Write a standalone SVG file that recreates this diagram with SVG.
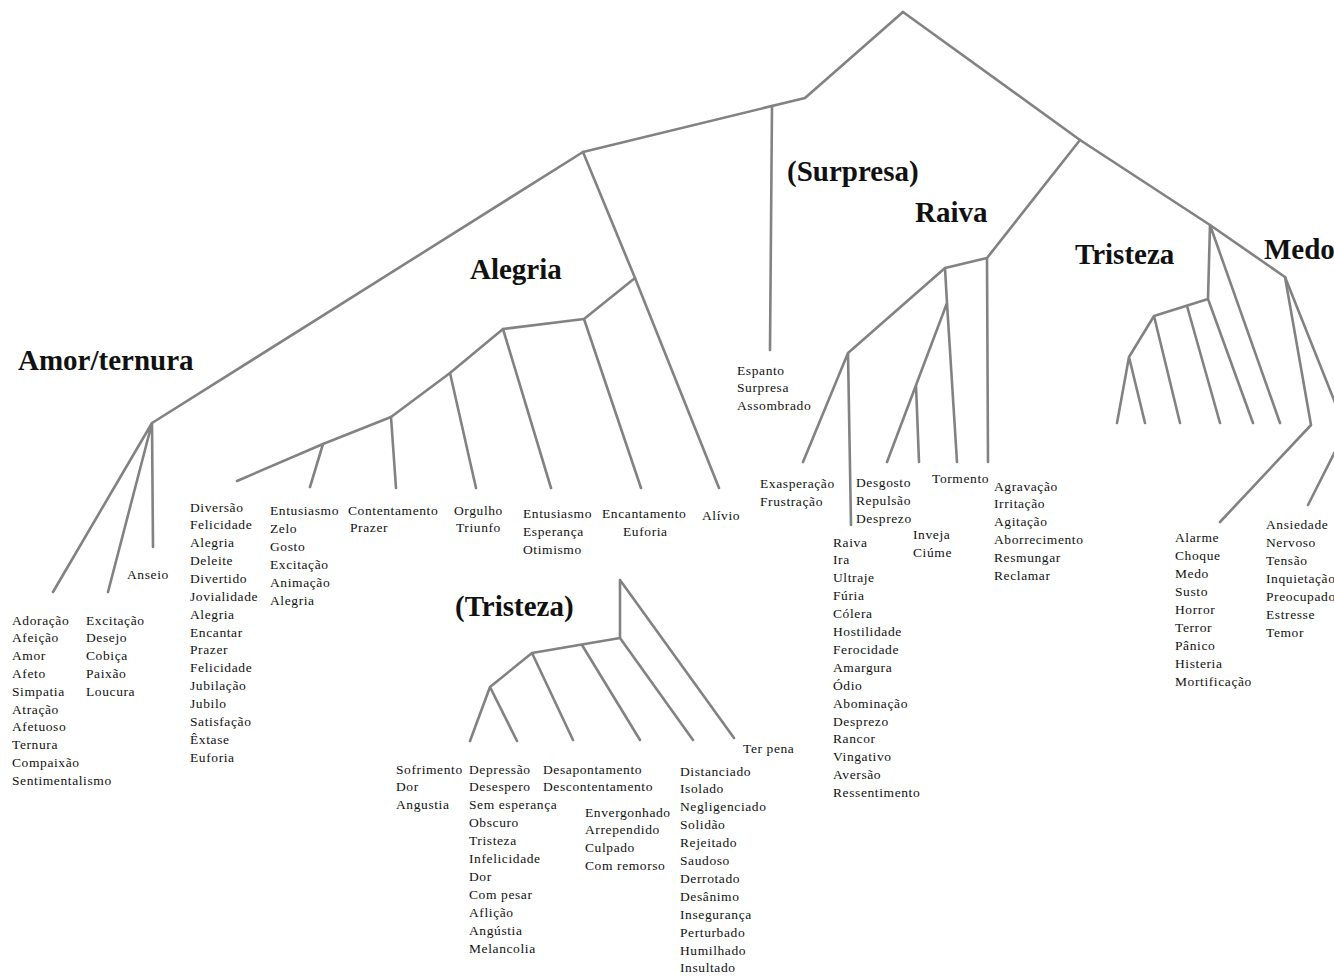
<svg xmlns="http://www.w3.org/2000/svg" width="1334" height="977" viewBox="0 0 1334 977">
<style>
.w{font-family:"Liberation Serif","Times New Roman",serif;font-size:13.5px;letter-spacing:0.6px;fill:#111}
.t{font-family:"Liberation Serif","Times New Roman",serif;font-weight:bold;font-size:29px;fill:#111}
.c{stroke:#828282;stroke-width:2.6;fill:none;stroke-linecap:round;stroke-linejoin:round}
</style>
<rect width="1334" height="977" fill="#fff"/>
<g id="connectors" class="c">
<path d="M903,12 L805,98 L583,152 L152,423"/>
<path d="M903,12 L1080,140 L1210,225 L1285,277 L1346,430 L1308,505"/>
<path d="M772,106 L770,350"/>
<path d="M583,152 L635,278 L719,488"/>
<path d="M635,278 L584,319 L503,329 L450,373 L391,417 L323,444 L237,481"/>
<path d="M584,319 L641,488 M503,329 L551,488 M450,373 L476,488 M391,417 L396,488 M323,444 L310,487"/>
<path d="M152,423 L53,592 M152,423 L108,592 M152,423 L153,547"/>
<path d="M1080,140 L987,258 L988,462 M987,258 L945,268 L947,303 L957,462 M947,303 L887,462 M916,385 L919,462 M945,268 L848,353 L803,462 M848,353 L851,525"/>
<path d="M1210,225 L1280,423 M1210,225 L1208,299 L1253,423 M1208,299 L1154,316 L1129,357 L1117,423 M1129,357 L1145,423 M1154,316 L1180,423 M1187,306 L1220,423"/>
<path d="M1285,277 L1311,425 L1220,522"/>
<path d="M620,580 L620,638 L532,653 L490,687 L470,741 M620,580 L734,738 M620,638 L693,740 M582,645 L640,740 M532,653 L573,740 M490,687 L517,741"/>
</g>
<g id="amor">
<text class="t" x="18" y="370">Amor/ternura</text>
<text class="w" x="12" y="624.5"><tspan x="12">Adoração</tspan><tspan x="12" dy="17.8">Afeição</tspan><tspan x="12" dy="17.8">Amor</tspan><tspan x="12" dy="17.8">Afeto</tspan><tspan x="12" dy="17.8">Simpatia</tspan><tspan x="12" dy="17.8">Atração</tspan><tspan x="12" dy="17.8">Afetuoso</tspan><tspan x="12" dy="17.8">Ternura</tspan><tspan x="12" dy="17.8">Compaixão</tspan><tspan x="12" dy="17.8">Sentimentalismo</tspan></text>
<text class="w" x="86" y="624.5"><tspan x="86">Excitação</tspan><tspan x="86" dy="17.8">Desejo</tspan><tspan x="86" dy="17.8">Cobiça</tspan><tspan x="86" dy="17.8">Paixão</tspan><tspan x="86" dy="17.8">Loucura</tspan></text>
<text class="w" x="127" y="578.5">Anseio</text>
</g>
<g id="alegria">
<text class="t" x="470" y="279">Alegria</text>
<text class="w" x="190" y="511.5"><tspan x="190">Diversão</tspan><tspan x="190" dy="17.86">Felicidade</tspan><tspan x="190" dy="17.86">Alegria</tspan><tspan x="190" dy="17.86">Deleite</tspan><tspan x="190" dy="17.86">Divertido</tspan><tspan x="190" dy="17.86">Jovialidade</tspan><tspan x="190" dy="17.86">Alegria</tspan><tspan x="190" dy="17.86">Encantar</tspan><tspan x="190" dy="17.86">Prazer</tspan><tspan x="190" dy="17.86">Felicidade</tspan><tspan x="190" dy="17.86">Jubilação</tspan><tspan x="190" dy="17.86">Jubilo</tspan><tspan x="190" dy="17.86">Satisfação</tspan><tspan x="190" dy="17.86">Êxtase</tspan><tspan x="190" dy="17.86">Euforia</tspan></text>
<text class="w" x="270" y="514.5"><tspan x="270">Entusiasmo</tspan><tspan x="270" dy="18">Zelo</tspan><tspan x="270" dy="18">Gosto</tspan><tspan x="270" dy="18">Excitação</tspan><tspan x="270" dy="18">Animação</tspan><tspan x="270" dy="18">Alegria</tspan></text>
<text class="w" x="348" y="514.5"><tspan x="348">Contentamento</tspan><tspan x="350" dy="17.5">Prazer</tspan></text>
<text class="w" x="454" y="514.5"><tspan x="454">Orgulho</tspan><tspan x="456" dy="17.5">Triunfo</tspan></text>
<text class="w" x="523" y="517.5"><tspan x="523">Entusiasmo</tspan><tspan x="523" dy="18">Esperança</tspan><tspan x="523" dy="18">Otimismo</tspan></text>
<text class="w" x="602" y="517.5"><tspan x="602">Encantamento</tspan><tspan x="623" dy="18">Euforia</tspan></text>
<text class="w" x="702" y="519.5">Alívio</text>
</g>
<g id="surpresa">
<text class="t" x="787" y="181">(Surpresa)</text>
<text class="w" x="737" y="374.5"><tspan x="737">Espanto</tspan><tspan x="737" dy="17.5">Surpresa</tspan><tspan x="737" dy="17.5">Assombrado</tspan></text>
</g>
<g id="raiva">
<text class="t" x="915" y="222">Raiva</text>
<text class="w" x="760" y="487.5"><tspan x="760">Exasperação</tspan><tspan x="760" dy="18">Frustração</tspan></text>
<text class="w" x="856" y="486.5"><tspan x="856">Desgosto</tspan><tspan x="856" dy="18">Repulsão</tspan><tspan x="856" dy="18">Desprezo</tspan></text>
<text class="w" x="932" y="482.5">Tormento</text>
<text class="w" x="994" y="490.5"><tspan x="994">Agravação</tspan><tspan x="994" dy="17.8">Irritação</tspan><tspan x="994" dy="17.8">Agitação</tspan><tspan x="994" dy="17.8">Aborrecimento</tspan><tspan x="994" dy="17.8">Resmungar</tspan><tspan x="994" dy="17.8">Reclamar</tspan></text>
<text class="w" x="913" y="538.5"><tspan x="913">Inveja</tspan><tspan x="913" dy="18">Ciúme</tspan></text>
<text class="w" x="833" y="546.5"><tspan x="833">Raiva</tspan><tspan x="833" dy="17.9">Ira</tspan><tspan x="833" dy="17.9">Ultraje</tspan><tspan x="833" dy="17.9">Fúria</tspan><tspan x="833" dy="17.9">Cólera</tspan><tspan x="833" dy="17.9">Hostilidade</tspan><tspan x="833" dy="17.9">Ferocidade</tspan><tspan x="833" dy="17.9">Amargura</tspan><tspan x="833" dy="17.9">Ódio</tspan><tspan x="833" dy="17.9">Abominação</tspan><tspan x="833" dy="17.9">Desprezo</tspan><tspan x="833" dy="17.9">Rancor</tspan><tspan x="833" dy="17.9">Vingativo</tspan><tspan x="833" dy="17.9">Aversão</tspan><tspan x="833" dy="17.9">Ressentimento</tspan></text>
</g>
<g id="tristeza">
<text class="t" x="1075" y="264">Tristeza</text>
</g>
<g id="medo">
<text class="t" x="1264" y="259">Medo</text>
<text class="w" x="1175" y="541.5"><tspan x="1175">Alarme</tspan><tspan x="1175" dy="18.1">Choque</tspan><tspan x="1175" dy="18.1">Medo</tspan><tspan x="1175" dy="18.1">Susto</tspan><tspan x="1175" dy="18.1">Horror</tspan><tspan x="1175" dy="18.1">Terror</tspan><tspan x="1175" dy="18.1">Pânico</tspan><tspan x="1175" dy="18.1">Histeria</tspan><tspan x="1175" dy="18.1">Mortificação</tspan></text>
<text class="w" x="1266" y="528.5"><tspan x="1266">Ansiedade</tspan><tspan x="1266" dy="18">Nervoso</tspan><tspan x="1266" dy="18">Tensão</tspan><tspan x="1266" dy="18">Inquietação</tspan><tspan x="1266" dy="18">Preocupado</tspan><tspan x="1266" dy="18">Estresse</tspan><tspan x="1266" dy="18">Temor</tspan></text>
</g>
<g id="tristeza2">
<text class="t" x="455" y="616">(Tristeza)</text>
<text class="w" x="396" y="773.5"><tspan x="396">Sofrimento</tspan><tspan x="396" dy="17.7">Dor</tspan><tspan x="396" dy="17.7">Angustia</tspan></text>
<text class="w" x="469" y="773.5"><tspan x="469">Depressão</tspan><tspan x="469" dy="17.9">Desespero</tspan><tspan x="469" dy="17.9">Sem esperança</tspan><tspan x="469" dy="17.9">Obscuro</tspan><tspan x="469" dy="17.9">Tristeza</tspan><tspan x="469" dy="17.9">Infelicidade</tspan><tspan x="469" dy="17.9">Dor</tspan><tspan x="469" dy="17.9">Com pesar</tspan><tspan x="469" dy="17.9">Aflição</tspan><tspan x="469" dy="17.9">Angústia</tspan><tspan x="469" dy="17.9">Melancolia</tspan></text>
<text class="w" x="543" y="773.5"><tspan x="543">Desapontamento</tspan><tspan x="543" dy="17.7">Descontentamento</tspan></text>
<text class="w" x="585" y="816.5"><tspan x="585">Envergonhado</tspan><tspan x="585" dy="17.8">Arrependido</tspan><tspan x="585" dy="17.8">Culpado</tspan><tspan x="585" dy="17.8">Com remorso</tspan></text>
<text class="w" x="743" y="752.5">Ter pena</text>
<text class="w" x="680" y="775.5"><tspan x="680">Distanciado</tspan><tspan x="680" dy="17.9">Isolado</tspan><tspan x="680" dy="17.9">Negligenciado</tspan><tspan x="680" dy="17.9">Solidão</tspan><tspan x="680" dy="17.9">Rejeitado</tspan><tspan x="680" dy="17.9">Saudoso</tspan><tspan x="680" dy="17.9">Derrotado</tspan><tspan x="680" dy="17.9">Desânimo</tspan><tspan x="680" dy="17.9">Insegurança</tspan><tspan x="680" dy="17.9">Perturbado</tspan><tspan x="680" dy="17.9">Humilhado</tspan><tspan x="680" dy="17.9">Insultado</tspan></text>
</g>
</svg>
